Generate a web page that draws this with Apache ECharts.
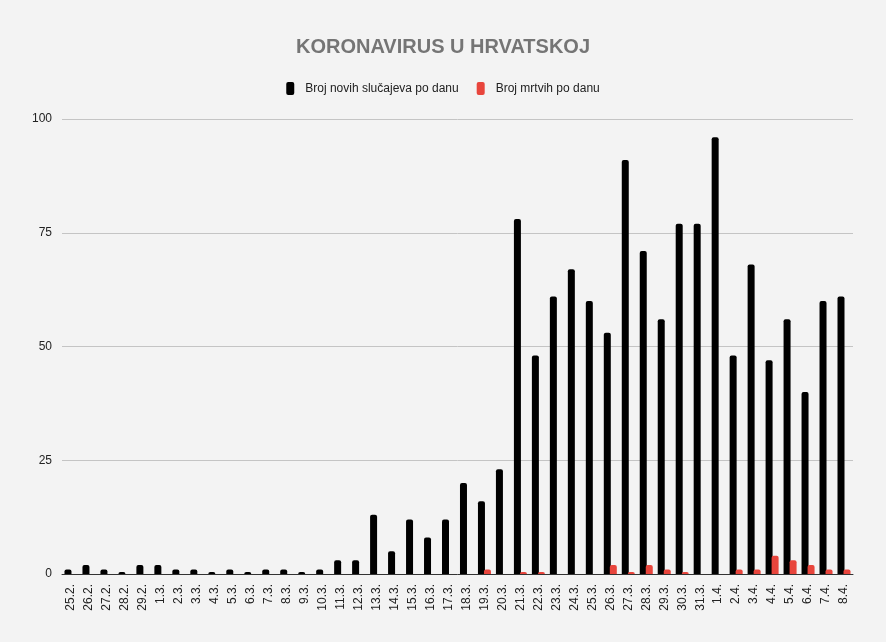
<!DOCTYPE html>
<html>
<head>
<meta charset="utf-8">
<script src="https://cdn.jsdelivr.net/npm/echarts@6/dist/echarts.min.js"></script>
<style>
html,body{margin:0;padding:0;background:#f3f3f3;}
#chart{width:886px;height:642px;}
</style>
</head>
<body>
<div id="chart"></div>
<script>
const categories = ['25.2.','26.2.','27.2.','28.2.','29.2.','1.3.','2.3.','3.3.','4.3.','5.3.','6.3.','7.3.','8.3.','9.3.','10.3.','11.3.','12.3.','13.3.','14.3.','15.3.','16.3.','17.3.','18.3.','19.3.','20.3.','21.3.','22.3.','23.3.','24.3.','25.3.','26.3.','27.3.','28.3.','29.3.','30.3.','31.3.','1.4.','2.4.','3.4.','4.4.','5.4.','6.4.','7.4.','8.4.'];
const newCases = [1,2,1,0,2,2,1,1,0,1,0,1,1,0,1,3,3,13,5,12,8,12,20,16,23,78,48,61,67,60,53,91,71,56,77,77,96,48,68,47,56,40,60,61];
const deaths = [null,null,null,null,null,null,null,null,null,null,null,null,null,null,null,null,null,null,null,null,null,null,null,1,null,0,0,null,null,null,2,0,2,1,0,null,null,1,1,4,3,2,1,1];
const yTicks = [0,25,50,75,100];

const chart = echarts.init(document.getElementById('chart'));
chart.setOption({
  backgroundColor: '#f3f3f3',
  animation: false,
  title: {
    text: 'KORONAVIRUS U HRVATSKOJ',
    left: 'center',
    top: 32,
    textStyle: {fontFamily: 'Liberation Sans, Arial, sans-serif', fontSize: 20, fontWeight: 'bold', color: '#757575'}
  },
  legend: {
    top: 77,
    left: 'center',
    itemWidth: 8,
    itemHeight: 13,
    itemGap: 18,
    icon: 'roundRect',
    textStyle: {fontFamily: 'Liberation Sans, Arial, sans-serif', fontSize: 12, color: '#222', padding: [0, 0, 0, 6]},
    data: ['Broj novih slučajeva po danu', 'Broj mrtvih po danu']
  },
  grid: {left: 62, right: 33, top: 119, bottom: 68, containLabel: false},
  xAxis: {
    type: 'category',
    data: categories,
    axisLine: {lineStyle: {color: '#333', width: 1}},
    axisTick: {show: false},
    axisLabel: {rotate: 90, interval: 0, fontFamily: 'Liberation Sans, Arial, sans-serif', fontSize: 12, color: '#222', margin: 10}
  },
  yAxis: {
    type: 'value',
    min: yTicks[0],
    max: yTicks[yTicks.length - 1],
    interval: 25,
    axisLine: {show: false},
    axisTick: {show: false},
    splitLine: {lineStyle: {color: '#c4c4c4', width: 1}},
    axisLabel: {fontFamily: 'Liberation Sans, Arial, sans-serif', fontSize: 12, color: '#222', margin: 10}
  },
  series: [
    {
      name: 'Broj novih slučajeva po danu',
      type: 'bar',
      data: newCases,
      barWidth: 7,
      barGap: '-14%',
      barMinHeight: 2,
      itemStyle: {color: '#000000', borderRadius: [2, 2, 0, 0]}
    },
    {
      name: 'Broj mrtvih po danu',
      type: 'bar',
      data: deaths,
      barWidth: 7,
      barMinHeight: 2,
      itemStyle: {color: '#e8453c', borderRadius: [2, 2, 0, 0]}
    }
  ]
});
</script>
</body>
</html>
